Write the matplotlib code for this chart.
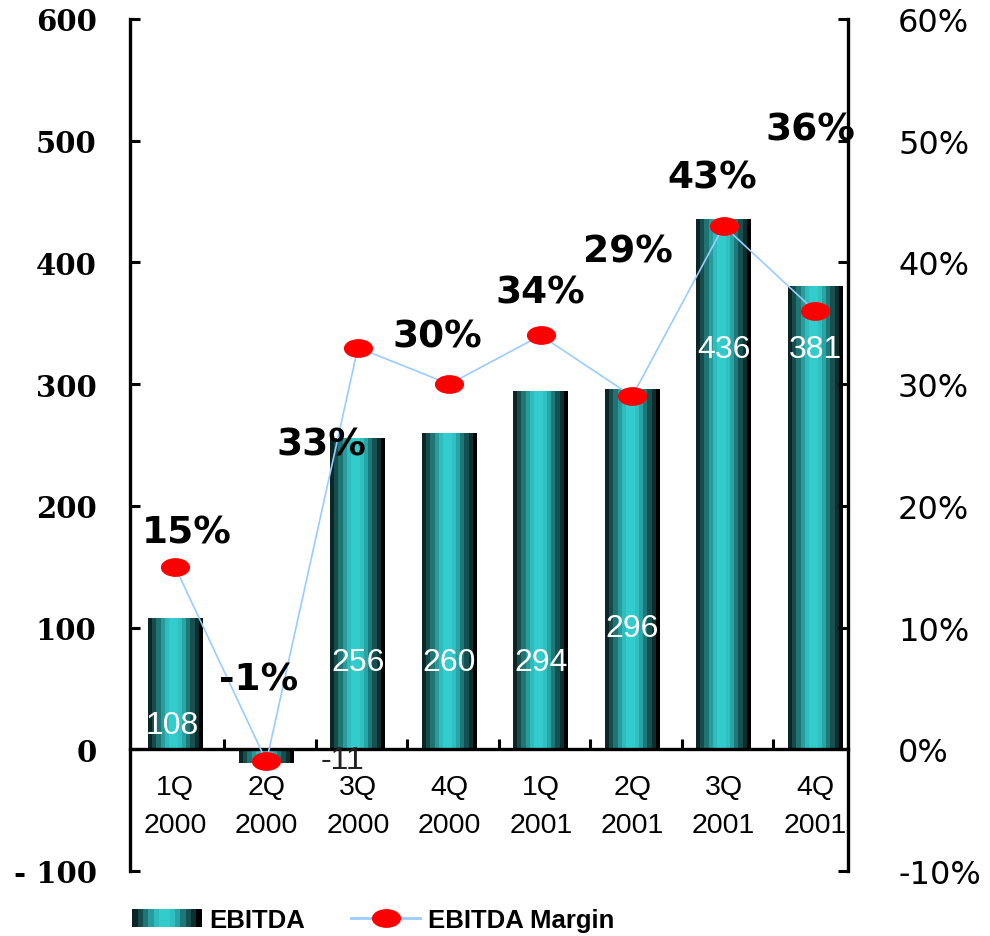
import numpy as np
import matplotlib
matplotlib.use("Agg")
import matplotlib.pyplot as plt
from matplotlib.path import Path
from matplotlib.transforms import Affine2D
from matplotlib.legend_handler import HandlerBase
from matplotlib.patches import Rectangle
from matplotlib.lines import Line2D
from matplotlib.ticker import FixedLocator, FixedFormatter

# ---- data ----
quarters = ["1Q\n2000", "2Q\n2000", "3Q\n2000", "4Q\n2000",
            "1Q\n2001", "2Q\n2001", "3Q\n2001", "4Q\n2001"]
ebitda = [108, -11, 256, 260, 294, 296, 436, 381]
margin_pct = [15, -1, 33, 30, 34, 29, 43, 36]

left_ticks = [-100, 0, 100, 200, 300, 400, 500, 600]
left_tick_labels = ["- 100", "0", "100", "200", "300", "400", "500", "600"]
right_ticks = [-10, 0, 10, 20, 30, 40, 50, 60]
right_tick_labels = ["-10%", "0%", "10%", "20%", "30%", "40%", "50%", "60%"]

# ---- label placement (style) ----
value_label_y = [20, -9, 72, 72, 72, 100, 329, 329]
value_label_dx = [-0.03, 0.83, 0, 0, 0, 0, 0, 0]
value_label_color = ["white", "#222222", "white", "white",
                     "white", "white", "white", "white"]
pct_label_dx = [0.13, -0.08, -0.40, -0.13, 0.0, -0.05, -0.12, -0.05]
pct_label_y = [17.8, 5.75, 25.0, 33.9, 37.5, 40.9, 47.0, 50.9]

# cylinder-like shading of the bars, left to right
stripe_colors = ["#0c2626", "#164c4c", "#1f7474", "#289c9c", "#2fbcbc",
                 "#33cccc", "#33cccc", "#30c0c0", "#29a4a4", "#1f7878",
                 "#175050", "#0f2e2e", "#000000"]

line_color = "#99ccff"
marker_color = "#ff0000"

fig = plt.figure(figsize=(9.9, 9.37), dpi=100)
ax = fig.add_axes([0.1313, 0.0694, 0.8566 - 0.1313, 0.9787 - 0.0694])

x = np.arange(len(quarters))
bars = ax.bar(x, ebitda, width=0.6, facecolor="none", edgecolor="none")

grad = np.array([[matplotlib.colors.to_rgb(c) for c in stripe_colors]])
for b in bars:
    x0, w = b.get_x(), b.get_width()
    y0, h = b.get_y(), b.get_height()
    im = ax.imshow(grad, extent=(x0, x0 + w, min(y0, y0 + h), max(y0, y0 + h)),
                   aspect="auto", interpolation="nearest", zorder=2)
    im.set_clip_path(b)

for i, v in enumerate(ebitda):
    ax.text(x[i] + value_label_dx[i], value_label_y[i], f"{v}",
            ha="center", va="center", fontsize=23,
            family="Liberation Sans", color=value_label_color[i], zorder=3)

ax.set_xlim(-0.492, 7.36)
ax.set_ylim(-100, 600)

for s in ["top", "right"]:
    ax.spines[s].set_visible(False)
ax.spines["left"].set_linewidth(2.4)
ax.spines["bottom"].set_position(("data", 0))
ax.spines["bottom"].set_linewidth(2.4)

ax.yaxis.set_major_locator(FixedLocator(left_ticks))
ax.yaxis.set_major_formatter(FixedFormatter(left_tick_labels))
ax.tick_params(axis="y", direction="in", length=7, width=2.2, pad=24)
for t in ax.get_yticklabels():
    t.set_fontfamily("DejaVu Serif")
    t.set_fontweight("bold")
    t.set_fontsize(21)

ax.xaxis.set_major_locator(FixedLocator(x[:-1] + 0.54))
ax.xaxis.set_major_formatter(FixedFormatter([""] * (len(x) - 1)))
ax.xaxis.set_minor_locator(FixedLocator(x))
ax.xaxis.set_minor_formatter(FixedFormatter(quarters))
ax.tick_params(axis="x", which="major", direction="in", length=7, width=2.2)
ax.tick_params(axis="x", which="minor", length=0, pad=18)
for t in ax.xaxis.get_minorticklabels():
    t.set_fontfamily("Liberation Sans")
    t.set_fontsize(20.5)
    t.set_linespacing(1.6)

# ---- margin line on the secondary axis ----
ax2 = ax.twinx()
ax2.set_ylim(-10, 60)
for s in ["top", "left", "bottom"]:
    ax2.spines[s].set_visible(False)
ax2.spines["right"].set_linewidth(2.4)
ax2.yaxis.set_major_locator(FixedLocator(right_ticks))
ax2.yaxis.set_major_formatter(FixedFormatter(right_tick_labels))
ax2.tick_params(axis="y", direction="in", length=7, width=2.2, pad=36)
for t in ax2.get_yticklabels():
    t.set_fontfamily("DejaVu Sans")
    t.set_fontsize(23)

ellipse = Path.unit_circle().transformed(Affine2D().scale(1.6, 1.0))
ax2.plot(x, margin_pct, color=line_color, lw=1.2, marker=ellipse,
         markersize=20, markerfacecolor=marker_color,
         markeredgecolor=marker_color, zorder=4)

for i, m in enumerate(margin_pct):
    ax2.text(x[i] + pct_label_dx[i], pct_label_y[i], f"{m}%",
             ha="center", va="center", fontsize=27, fontweight="bold",
             family="DejaVu Sans", color="black", zorder=5)


class StripeHandler(HandlerBase):
    def create_artists(self, legend, orig_handle, xdescent, ydescent,
                       width, height, fontsize, trans):
        n = len(stripe_colors)
        w = width / n
        return [Rectangle((-xdescent + i * w, -ydescent), w * 1.05, height,
                          facecolor=c, edgecolor="none", transform=trans)
                for i, c in enumerate(stripe_colors)]


bar_proxy = Rectangle((0, 0), 1, 1)
line_proxy = Line2D([], [], color=line_color, lw=2, marker=ellipse,
                    markersize=20, markerfacecolor=marker_color,
                    markeredgecolor=marker_color)
leg = fig.legend([bar_proxy, line_proxy], ["EBITDA", "EBITDA Margin"],
                 handler_map={Rectangle: StripeHandler()},
                 loc="center", bbox_to_anchor=(0.377, 0.017), ncol=2,
                 frameon=False, handlelength=2.7, handleheight=0.7,
                 handletextpad=0.28, columnspacing=1.8,
                 prop={"family": "Liberation Sans",
                       "weight": "bold", "size": 18.5})

fig.savefig("out.png", dpi=100)
